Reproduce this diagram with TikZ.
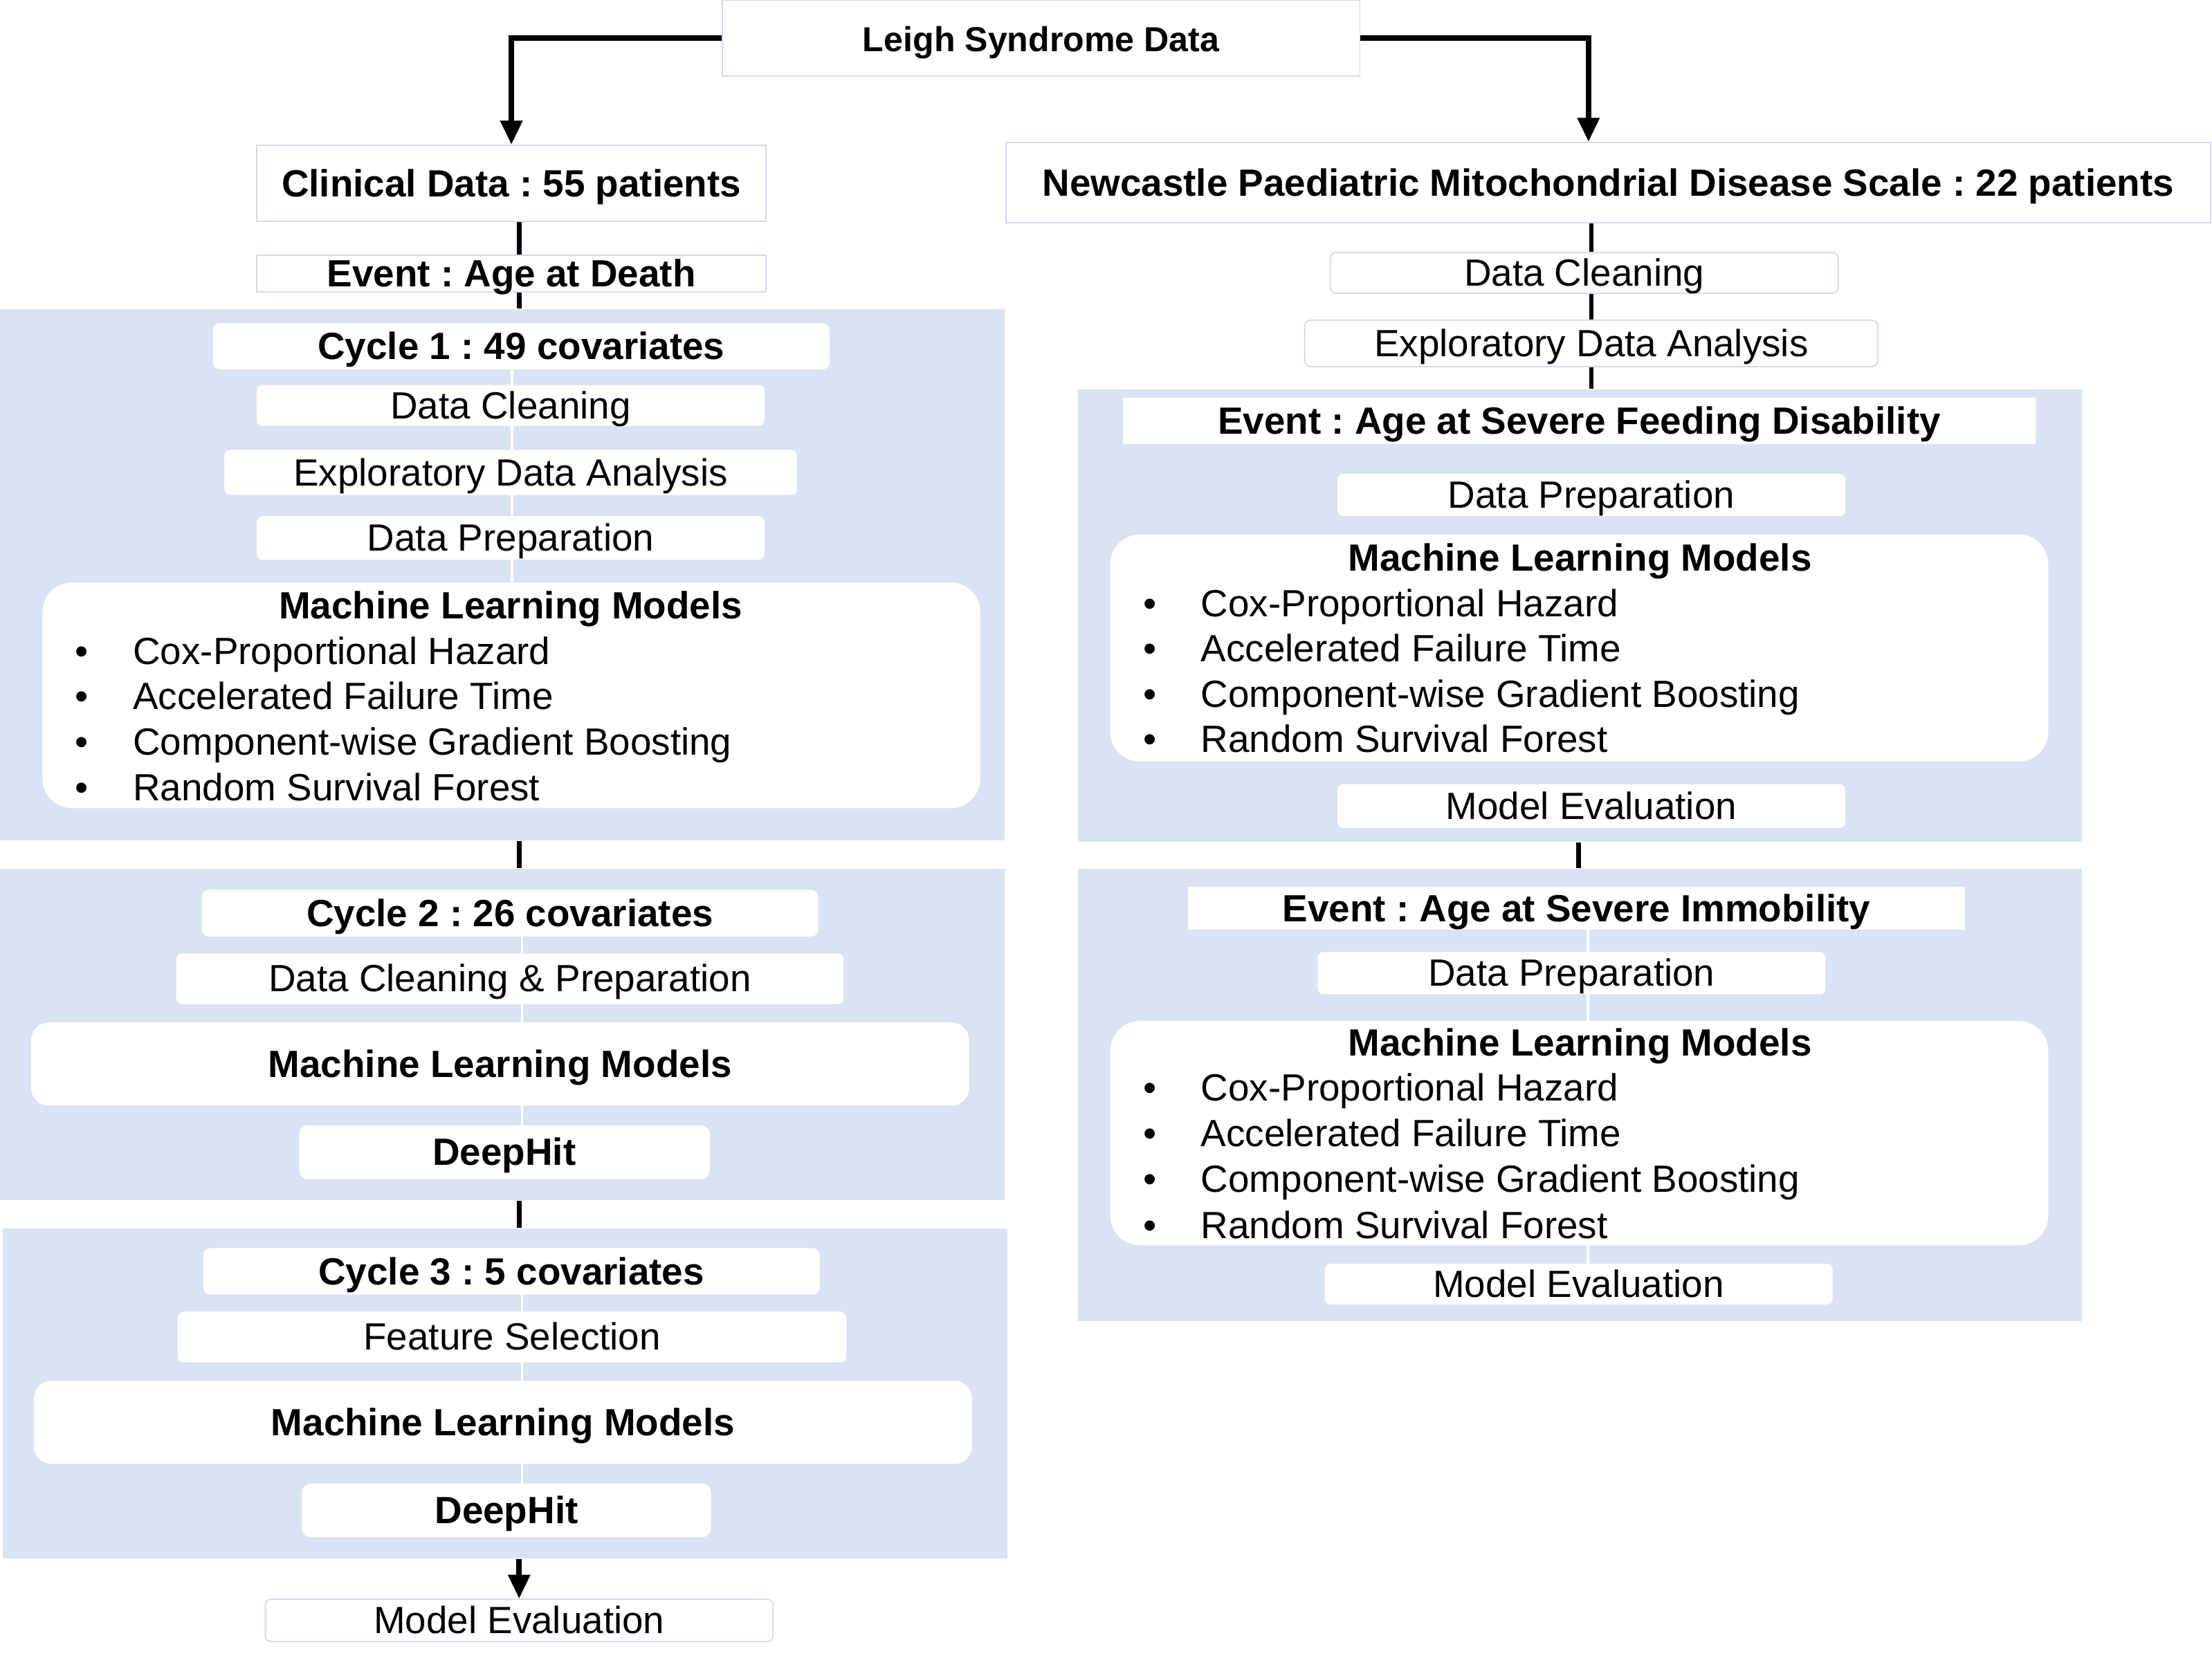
\documentclass[tikz,border=0pt]{standalone}
\usepackage{fontspec}
\setmainfont{Liberation Sans}
\usetikzlibrary{arrows.meta}
\definecolor{panelc}{HTML}{DAE3F3}
\definecolor{bordc}{HTML}{D3DBEA}
\frenchspacing
\begin{document}
\begin{tikzpicture}[x=0.02cm,y=-0.02cm,
  font=\fontsize{15.3}{18}\selectfont,
  panel/.style={fill=panelc,draw=none,inner sep=0pt,minimum width=14.24cm},
  base/.style={inner sep=0pt,text height=1.06em,text depth=-0.2em,fill=white},
  obox/.style={base,draw=bordc,line width=0.5pt},
  orbox/.style={base,draw=bordc,line width=0.5pt,rounded corners=0.08cm},
  wbox/.style={base,draw=none,rounded corners=0.08cm},
  sbox/.style={base,draw=none},
  mlbox/.style={base,draw=none,rounded corners=0.42cm},
  mlsbox/.style={base,draw=none,rounded corners=0.25cm},
  bt/.style={font=\fontsize{15.3}{18}\selectfont\bfseries},
  item/.style={anchor=base west,inner sep=0pt},
  bul/.style={anchor=base,inner sep=0pt},
  arr/.style={line width=2.2pt,-{Triangle[width=0.3cm,length=0.34cm]}},
  conn/.style={line width=1.9pt},
  wline/.style={white,line width=1pt}]
\useasboundingbox (0,0) rectangle (1568,1182);
% panels
\node[panel,minimum height=7.54cm] (p1) at (356,407.5) {};
\node[panel,minimum height=4.70cm] (p2) at (356,733.5) {};
\node[panel,minimum height=4.68cm] (p3) at (358,988) {};
\node[panel,minimum height=6.42cm] (pA) at (1120,436.5) {};
\node[panel,minimum height=6.42cm] (pB) at (1120,776.5) {};
% top nodes
\node[obox,minimum width=9.04cm,minimum height=1.08cm,font=\fontsize{14}{17}\selectfont\bfseries] (title) at (738,27) {Leigh Syndrome Data};
\node[obox,bt,minimum width=7.22cm,minimum height=1.08cm] (clin) at (362.5,130) {Clinical Data : 55 patients};
\node[obox,bt,minimum width=17.08cm,minimum height=1.14cm] (newc) at (1140,129.5) {Newcastle Paediatric Mitochondrial Disease Scale : 22 patients};
% black connectors
\draw[arr] (title.west) -| (clin.north);
\draw[arr] (title.east) -| ([xshift=-0.28cm]newc.north);
\draw[conn] ([xshift=0.11cm]clin.south) -- ([xshift=0.11cm]clin.south |- p1.north);
\draw[conn] ([xshift=0.24cm]p1.south) -- ([xshift=0.24cm]p1.south |- p2.north);
\draw[conn] ([xshift=0.24cm]p2.south) -- ([xshift=0.24cm]p2.south |- p3.north);
\draw[conn] ([xshift=-0.24cm]newc.south) -- ([xshift=-0.24cm]newc.south |- pA.north);
\draw[conn] ([xshift=-0.02cm]pA.south) -- ([xshift=-0.02cm]pA.south |- pB.north);
% left column
\node[obox,bt,minimum width=7.22cm,minimum height=0.52cm] (evdeath) at (362.5,194) {Event : Age at Death};
\node[wbox,bt,minimum width=8.74cm,minimum height=0.66cm,rounded corners=0.1cm] (cyc1) at (369.5,245.5) {Cycle 1 : 49 covariates};
\node[mlbox,minimum width=13.30cm,minimum height=3.20cm] (ml1) at (362.5,493) {};
\draw[wline] (cyc1.south -| 363,0) -- (ml1.north -| 363,0);
\node[wbox,minimum width=7.20cm,minimum height=0.58cm] (dc1) at (362,287.5) {Data Cleaning};
\node[wbox,minimum width=8.12cm,minimum height=0.64cm] (eda1) at (362,335) {Exploratory Data Analysis};
\node[wbox,minimum width=7.20cm,minimum height=0.62cm] (dp1) at (362,381.5) {Data Preparation};
\node[bul,bt] (ml1t) at (362,438.8) {Machine Learning Models};
\node[bul] (ml1b1) at (58,471) {•};
\node[bul] (ml1b2) at (58,503.2) {•};
\node[bul] (ml1b3) at (58,535.4) {•};
\node[bul] (ml1b4) at (58,567.6) {•};
\node[item] (ml1i1) at (94,471) {Cox-Proportional Hazard};
\node[item] (ml1i2) at (94,503.2) {Accelerated Failure Time};
\node[item] (ml1i3) at (94,535.4) {Component-wise Gradient Boosting};
\node[item] (ml1i4) at (94,567.6) {Random Survival Forest};
% cycle 2
\draw[wline] (370,664) -- (370,798);
\node[wbox,bt,minimum width=8.74cm,minimum height=0.66cm,rounded corners=0.1cm] (cyc2) at (361.5,647.5) {Cycle 2 : 26 covariates};
\node[wbox,minimum width=9.46cm,minimum height=0.72cm] (dcp2) at (361.5,694) {Data Cleaning \& Preparation};
\node[mlsbox,bt,minimum width=13.30cm,minimum height=1.18cm] (ml2) at (354.5,754.5) {Machine Learning Models};
\node[wbox,bt,minimum width=5.82cm,minimum height=0.76cm,rounded corners=0.12cm] (dh2) at (357.5,817) {DeepHit};
% cycle 3
\draw[wline] (370,918) -- (370,1052);
\node[wbox,bt,minimum width=8.74cm,minimum height=0.66cm,rounded corners=0.1cm] (cyc3) at (362.5,901.5) {Cycle 3 : 5 covariates};
\node[wbox,minimum width=9.48cm,minimum height=0.72cm] (fs3) at (363,948) {Feature Selection};
\node[mlsbox,bt,minimum width=13.30cm,minimum height=1.18cm] (ml3) at (356.5,1008.5) {Machine Learning Models};
\node[wbox,bt,minimum width=5.80cm,minimum height=0.76cm,rounded corners=0.12cm] (dh3) at (359,1071) {DeepHit};
\node[orbox,minimum width=7.20cm,minimum height=0.60cm] (me3) at (368,1149) {Model Evaluation};
\draw[arr] (p3.south -| me3.north) -- (me3.north);
% right column
\node[orbox,minimum width=7.20cm,minimum height=0.58cm] (dcR) at (1123,193.5) {Data Cleaning};
\node[orbox,minimum width=8.12cm,minimum height=0.66cm] (edaR) at (1128,243.5) {Exploratory Data Analysis};
\node[sbox,bt,minimum width=12.94cm,minimum height=0.66cm] (evfeed) at (1119.5,298.5) {Event : Age at Severe Feeding Disability};
\node[wbox,minimum width=7.20cm,minimum height=0.60cm] (dpA) at (1128,351) {Data Preparation};
\node[mlbox,minimum width=13.30cm,minimum height=3.22cm] (mlA) at (1119.5,459.5) {};
\node[bul,bt] (mlAt) at (1120,404.8) {Machine Learning Models};
\node[bul] (mlAb1) at (815,437) {•};
\node[bul] (mlAb2) at (815,469.2) {•};
\node[bul] (mlAb3) at (815,501.4) {•};
\node[bul] (mlAb4) at (815,533.6) {•};
\node[item] (mlAi1) at (851,437) {Cox-Proportional Hazard};
\node[item] (mlAi2) at (851,469.2) {Accelerated Failure Time};
\node[item] (mlAi3) at (851,501.4) {Component-wise Gradient Boosting};
\node[item] (mlAi4) at (851,533.6) {Random Survival Forest};
\node[wbox,minimum width=7.20cm,minimum height=0.62cm] (meA) at (1128,571.5) {Model Evaluation};
% panel B
\draw[wline] (1125.5,659) -- (1125.5,896);
\node[sbox,bt,minimum width=11.02cm,minimum height=0.60cm] (evimm) at (1117.5,644) {Event : Age at Severe Immobility};
\node[wbox,minimum width=7.20cm,minimum height=0.60cm] (dpB) at (1114,690) {Data Preparation};
\node[mlbox,minimum width=13.30cm,minimum height=3.18cm] (mlB) at (1119.5,803.5) {};
\node[bul,bt] (mlBt) at (1120,748.5) {Machine Learning Models};
\node[bul] (mlBb1) at (815,780.5) {•};
\node[bul] (mlBb2) at (815,813) {•};
\node[bul] (mlBb3) at (815,845.5) {•};
\node[bul] (mlBb4) at (815,878) {•};
\node[item] (mlBi1) at (851,780.5) {Cox-Proportional Hazard};
\node[item] (mlBi2) at (851,813) {Accelerated Failure Time};
\node[item] (mlBi3) at (851,845.5) {Component-wise Gradient Boosting};
\node[item] (mlBi4) at (851,878) {Random Survival Forest};
\node[wbox,minimum width=7.20cm,minimum height=0.58cm] (meB) at (1119,910.5) {Model Evaluation};
\end{tikzpicture}
\end{document}
